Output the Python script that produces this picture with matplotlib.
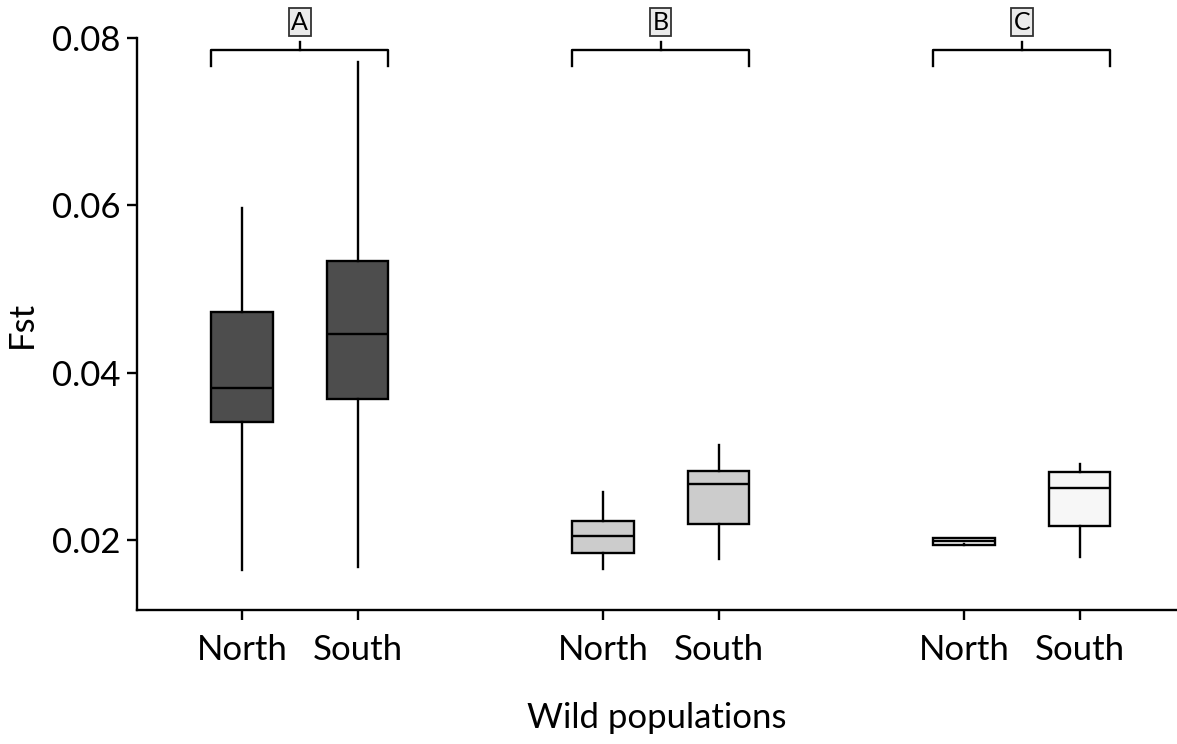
import matplotlib
matplotlib.use("Agg")
import matplotlib.pyplot as plt
import numpy as np

plt.rcParams["font.family"] = ["Lato", "DejaVu Sans"]

groups = ["A", "B", "C"]
regions = ["North", "South", "North", "South", "North", "South"]
group_of_box = [0, 0, 1, 1, 2, 2]

whisker_low = [0.0164, 0.0168, 0.0166, 0.0178, 0.0195, 0.0180]
q1 = [0.0341, 0.0369, 0.0185, 0.0219, 0.01945, 0.0217]
median = [0.0382, 0.0446, 0.0205, 0.0267, 0.0199, 0.0262]
q3 = [0.0473, 0.0533, 0.0223, 0.0283, 0.02025, 0.0281]
whisker_high = [0.0597, 0.0771, 0.0258, 0.0314, 0.0202, 0.0291]

group_colors = ["#4d4d4d", "#cccccc", "#f7f7f7"]

offset = 0.16
box_width = 0.17

figure = plt.figure(figsize=(11.77, 7.44), dpi=100)
axis = figure.add_axes([0.1164, 0.1801, 0.8836, 0.7688])

positions = [
    (group_of_box[i] + 1) + (-offset if regions[i] == "North" else offset)
    for i in range(len(regions))
]

stats = [
    {
        "whislo": whisker_low[i],
        "q1": q1[i],
        "med": median[i],
        "q3": q3[i],
        "whishi": whisker_high[i],
        "fliers": [],
    }
    for i in range(len(regions))
]

result = axis.bxp(
    stats,
    positions=positions,
    widths=box_width,
    patch_artist=True,
    showcaps=False,
    boxprops={"linewidth": 1.7, "edgecolor": "black"},
    medianprops={"linewidth": 1.7, "color": "black"},
    whiskerprops={"linewidth": 1.7, "color": "black"},
)

for i, patch in enumerate(result["boxes"]):
    patch.set_facecolor(group_colors[group_of_box[i]])

# brackets with group letters above each pair
bracket_y = 0.07857
bracket_drop = 0.07669
bracket_top = 0.07956
for g, letter in enumerate(groups):
    center = g + 1
    left = center - offset - box_width / 2
    right = center + offset + box_width / 2
    axis.plot(
        [left, left, right, right],
        [bracket_drop, bracket_y, bracket_y, bracket_drop],
        color="black",
        linewidth=1.7,
        clip_on=False,
    )
    axis.plot(
        [center, center],
        [bracket_y, bracket_top],
        color="black",
        linewidth=1.7,
        clip_on=False,
    )
    axis.text(
        center,
        0.0819,
        letter,
        ha="center",
        va="center",
        fontsize=18,
        bbox={
            "boxstyle": "square,pad=0.1",
            "facecolor": "#ebebeb",
            "edgecolor": "#333333",
            "linewidth": 1.3,
        },
        clip_on=False,
    )

axis.set_xlim(0.549, 3.43)
axis.set_ylim(0.01165, 0.08)
axis.set_xticks(positions)
axis.set_xticklabels(regions)
axis.set_yticks([0.02, 0.04, 0.06, 0.08])
axis.set_yticklabels(["0.02", "0.04", "0.06", "0.08"])

axis.spines["top"].set_visible(False)
axis.spines["right"].set_visible(False)
axis.spines["left"].set_linewidth(1.7)
axis.spines["bottom"].set_linewidth(1.7)
axis.tick_params(axis="both", labelsize=25, width=1.7, length=7)
axis.tick_params(axis="x", pad=10)
axis.tick_params(axis="y", pad=5)

axis.set_ylabel("Fst", fontsize=25)
axis.set_xlabel("Wild populations", fontsize=25)
axis.yaxis.set_label_coords(-0.095, 0.5)
axis.xaxis.set_label_coords(0.5, -0.16)

figure.savefig("out.png", dpi=100)
